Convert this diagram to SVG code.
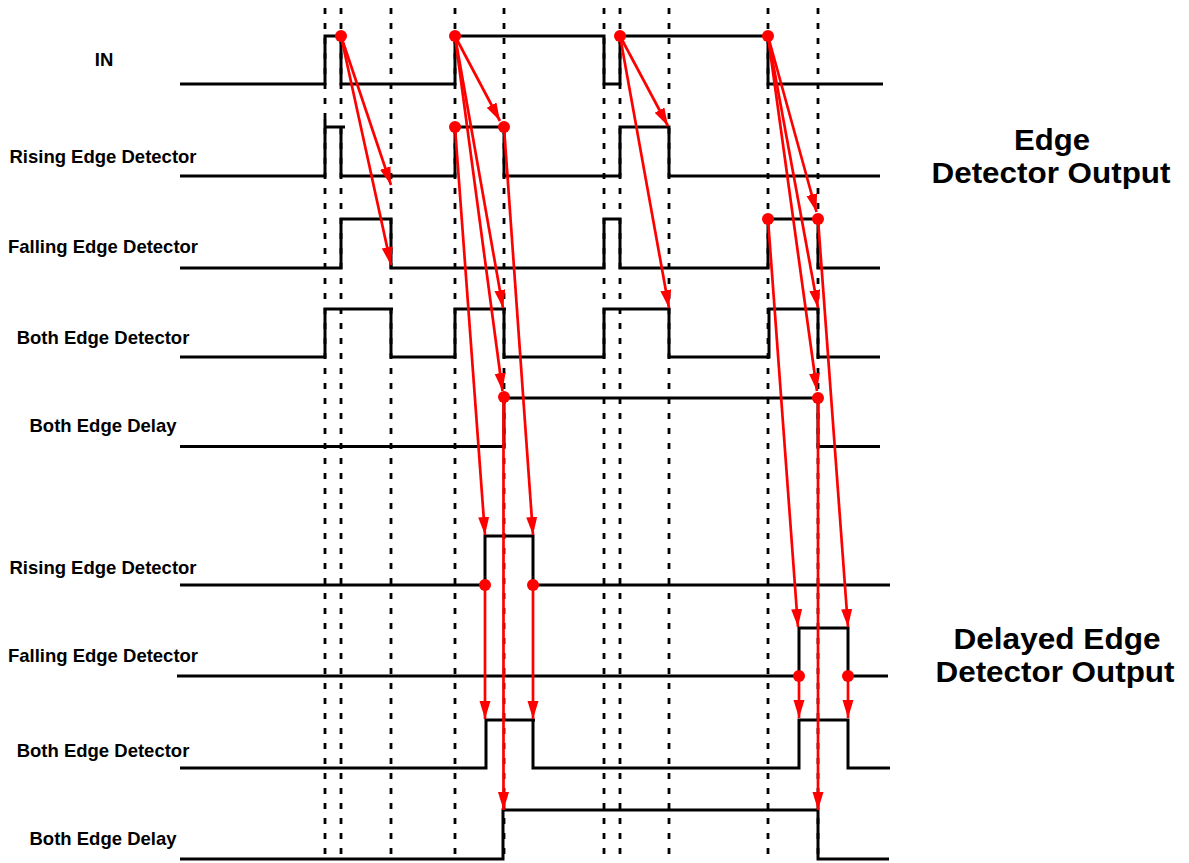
<svg xmlns="http://www.w3.org/2000/svg" width="1189" height="863" viewBox="0 0 1189 863">
<style>
.bg{fill:#fff}
.grid{stroke:#000;stroke-width:2.8;stroke-dasharray:6 9;fill:none}
.wave{stroke:#000;stroke-width:3;fill:none;stroke-linejoin:miter;stroke-linecap:butt}
.lbl{font-family:"Liberation Sans",Arial,sans-serif;font-weight:bold;font-size:18.5px;fill:#000;text-anchor:middle}
.ttl{font-family:"Liberation Sans",Arial,sans-serif;font-weight:bold;font-size:29px;fill:#000;text-anchor:middle}
.arr{stroke:#f00;stroke-width:2.7;fill:none;marker-end:url(#ah)}
.dot{fill:#f00}
</style>
<defs>
<marker id="ah" markerUnits="userSpaceOnUse" markerWidth="20" markerHeight="13" refX="18" refY="5.5" orient="auto">
<path d="M0,0 L18,5.5 L0,11 Z" fill="#f00"/>
</marker>
</defs>
<rect class="bg" x="0" y="0" width="1189" height="863"/>

<g id="grid">
<line class="grid" x1="325" y1="8" x2="325" y2="863"/>
<line class="grid" x1="341" y1="8" x2="341" y2="863"/>
<line class="grid" x1="391" y1="8" x2="391" y2="863"/>
<line class="grid" x1="455" y1="8" x2="455" y2="863"/>
<line class="grid" x1="504" y1="8" x2="504" y2="863"/>
<line class="grid" x1="604" y1="8" x2="604" y2="863"/>
<line class="grid" x1="620" y1="8" x2="620" y2="863"/>
<line class="grid" x1="669" y1="8" x2="669" y2="863"/>
<line class="grid" x1="768" y1="8" x2="768" y2="863"/>
<line class="grid" x1="818" y1="8" x2="818" y2="863"/>
</g>

<g id="row-in">
<text class="lbl" x="104" y="66">IN</text>
<polyline class="wave" points="180,84 325,84 325,36 341,36 341,84 455,84 455,36 604,36 604,84 620,84 620,36 768,36 768,84 883,84"/>
</g>
<g id="row-rise">
<text class="lbl" x="103" y="163">Rising Edge Detector</text>
<polyline class="wave" points="180,176 325,176 325,119"/>
<polyline class="wave" points="325,127 345,127"/>
<polyline class="wave" points="341,127 341,176 455,176 455,127 504,127 504,176 620,176 620,127 669,127 669,176 880,176"/>
</g>
<g id="row-fall">
<text class="lbl" x="103" y="253">Falling Edge Detector</text>
<polyline class="wave" points="180,268 341,268 341,219 391,219 391,268 604,268 604,219 620,219 620,268 768,268 768,219 818,219 818,268 880,268"/>
</g>
<g id="row-both">
<text class="lbl" x="103" y="344">Both Edge Detector</text>
<polyline class="wave" points="180,357 325,357 325,309 393,309"/>
<polyline class="wave" points="391,309 391,357 455,357 455,309 506,309"/>
<polyline class="wave" points="504,309 504,357 604,357 604,309 669,309 669,357 769,357 769,309 818,309 818,357 880,357"/>
</g>
<g id="row-delay">
<text class="lbl" x="103" y="432">Both Edge Delay</text>
<polyline class="wave" points="180,446.5 504,446.5 504,398 818,398 818,446.5 880,446.5"/>
</g>

<g id="row-rise2">
<text class="lbl" x="103" y="574">Rising Edge Detector</text>
<polyline class="wave" points="180,585 485,585 485,536 533,536 533,585 890,585"/>
</g>
<g id="row-fall2">
<text class="lbl" x="103" y="662">Falling Edge Detector</text>
<polyline class="wave" points="177,676 799,676 799,628 848,628 848,676 888,676"/>
</g>
<g id="row-both2">
<text class="lbl" x="103" y="757">Both Edge Detector</text>
<polyline class="wave" points="180,768 486,768 486,720 535,720"/>
<polyline class="wave" points="533,720 533,768 799,768 799,720 848,720 848,768 890,768"/>
</g>
<g id="row-delay2">
<text class="lbl" x="103" y="845">Both Edge Delay</text>
<polyline class="wave" points="180,859 503,859 503,810 818,810 818,859 889,859"/>
</g>

<g id="title-1">
<text class="ttl" x="1052" y="150" textLength="76" lengthAdjust="spacingAndGlyphs">Edge</text>
<text class="ttl" x="1051" y="183" textLength="239" lengthAdjust="spacingAndGlyphs">Detector Output</text>
</g>
<g id="title-2">
<text class="ttl" x="1057" y="649" textLength="207" lengthAdjust="spacingAndGlyphs">Delayed Edge</text>
<text class="ttl" x="1055" y="682" textLength="239" lengthAdjust="spacingAndGlyphs">Detector Output</text>
</g>

<g id="connectors">
<line class="arr" x1="341" y1="36" x2="391" y2="185"/>
<line class="arr" x1="341" y1="36" x2="391" y2="265"/>
<line class="arr" x1="455" y1="36" x2="500" y2="121"/>
<line class="arr" x1="455" y1="36" x2="503" y2="308"/>
<line class="arr" x1="455" y1="36" x2="502.5" y2="391"/>
<line class="arr" x1="455" y1="127" x2="485" y2="535"/>
<line class="arr" x1="504" y1="127" x2="533" y2="535"/>
<line class="arr" x1="620" y1="36" x2="668" y2="126"/>
<line class="arr" x1="620" y1="36" x2="669" y2="308"/>
<line class="arr" x1="768" y1="36" x2="816.5" y2="212"/>
<line class="arr" x1="768" y1="36" x2="818" y2="308"/>
<line class="arr" x1="768" y1="36" x2="817" y2="391"/>
<line class="arr" x1="768" y1="219" x2="798" y2="627"/>
<line class="arr" x1="818" y1="219" x2="848" y2="627"/>
<line class="arr" x1="503.5" y1="398" x2="503.5" y2="810"/>
<line class="arr" x1="818" y1="398" x2="818" y2="810"/>
<line class="arr" x1="485" y1="585" x2="485" y2="719"/>
<line class="arr" x1="533" y1="585" x2="533" y2="719"/>
<line class="arr" x1="799" y1="676" x2="799" y2="718"/>
<line class="arr" x1="848" y1="676" x2="848" y2="718"/>
<circle class="dot" cx="341" cy="36" r="6"/>
<circle class="dot" cx="455" cy="36" r="6"/>
<circle class="dot" cx="620" cy="36" r="6"/>
<circle class="dot" cx="768" cy="36" r="6"/>
<circle class="dot" cx="455" cy="127" r="6"/>
<circle class="dot" cx="504" cy="127" r="6"/>
<circle class="dot" cx="768" cy="219" r="6"/>
<circle class="dot" cx="818" cy="219" r="6"/>
<circle class="dot" cx="504" cy="397" r="6"/>
<circle class="dot" cx="818" cy="398" r="6"/>
<circle class="dot" cx="485" cy="585" r="6"/>
<circle class="dot" cx="533" cy="585" r="6"/>
<circle class="dot" cx="799" cy="676" r="6"/>
<circle class="dot" cx="848" cy="676" r="6"/>
</g>
</svg>
